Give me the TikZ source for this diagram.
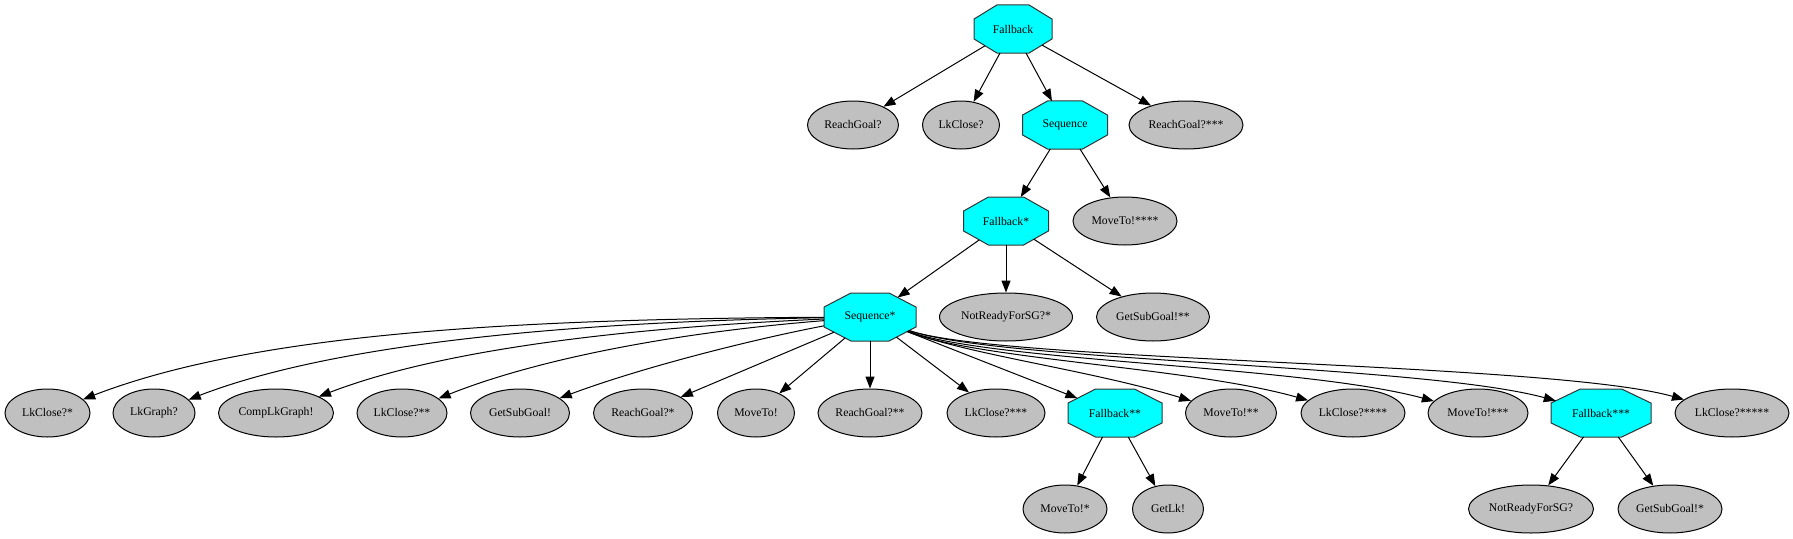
\documentclass[tikz,border=0pt]{standalone}
\usepackage{fontspec}
\setmainfont{Liberation Serif}
\usetikzlibrary{arrows.meta,shapes.geometric}
\definecolor{gvgray}{HTML}{C0C0C0}
\definecolor{gvcyan}{HTML}{00FFFF}
\tikzset{
  gvfont/.style={font=\fontsize{8.8}{10}\selectfont},
  leaf/.style={ellipse, draw=black, fill=gvgray, line width=0.75pt, inner sep=0pt, minimum height=36pt, gvfont},
  octshape/.style={regular polygon, regular polygon sides=8, minimum size=38.97pt, inner sep=0pt, outer sep=0pt, draw=black!80, fill=gvcyan, line width=0.75pt},
  lbl/.style={inner sep=0pt, gvfont},
  edge/.style={draw=black, line width=0.75pt, -{Triangle[length=9pt,width=6.8pt]}},
}
\newcommand\leafnode[5]{\node[leaf, minimum width=#4*0.75pt] (#1) at (#2,#3) {#5};}
\newcommand\octnode[5]{%
  \begin{scope}[shift={(#2,#3)}]
    \node[octshape, xscale=#4/48] (#1) at (0,0) {};
    \node[lbl] (#1t) at (0,0) {#5};
  \end{scope}}
\begin{document}
\begin{tikzpicture}[x=0.75pt, y=-0.75pt]
\useasboundingbox (0,0) rectangle (1793,539);
% row 1
\octnode{fb}{1013}{29}{78}{Fallback}
% row 2
\leafnode{rg1}{853}{125}{91}{ReachGoal?}
\leafnode{lkc1}{961}{125}{77}{LkClose?}
\octnode{seq}{1065}{125}{85}{Sequence}
\leafnode{rg3}{1186}{125}{114}{ReachGoal?***}
% row 3
\octnode{fbs}{1006}{221}{85}{Fallback*}
\leafnode{mv4}{1125}{221}{104}{MoveTo!****}
% row 4
\octnode{seqs}{870}{317}{92}{Sequence*}
\leafnode{nr1}{1006}{317}{133}{NotReadyForSG?*}
\leafnode{gs2}{1153}{317}{113}{GetSubGoal!**}
% row 5
\leafnode{a1}{47.5}{413}{85}{LkClose?*}
\leafnode{a2}{154}{413}{82}{LkGraph?}
\leafnode{a3}{276}{413}{115}{CompLkGraph!}
\leafnode{a4}{402}{413}{90}{LkClose?**}
\leafnode{a5}{520}{413}{99}{GetSubGoal!}
\leafnode{a6}{643}{413}{99}{ReachGoal?*}
\leafnode{a7}{756}{413}{77}{MoveTo!}
\leafnode{a8}{870}{413}{104}{ReachGoal?**}
\leafnode{a9}{996}{413}{98}{LkClose?***}
\octnode{a10}{1115}{413}{94}{Fallback**}
\leafnode{a11}{1231}{413}{91}{MoveTo!**}
\leafnode{a12}{1353}{413}{104}{LkClose?****}
\leafnode{a13}{1478}{413}{100}{MoveTo!***}
\octnode{a14}{1601}{413}{100}{Fallback***}
\leafnode{a15}{1732}{413}{114}{LkClose?*****}
% row 6
\leafnode{b1}{1065}{509}{84}{MoveTo!*}
\leafnode{b2}{1168}{509}{71}{GetLk!}
\leafnode{b3}{1531}{509}{125}{NotReadyForSG?}
\leafnode{b4}{1670}{509}{104}{GetSubGoal!*}
% edges
\draw[edge] (fb) -- (rg1);
\draw[edge] (fb) -- (lkc1);
\draw[edge] (fb) -- (seq);
\draw[edge] (fb) -- (rg3);
\draw[edge] (seq) -- (fbs);
\draw[edge] (seq) -- (mv4);
\draw[edge] (fbs) -- (seqs);
\draw[edge] (fbs) -- (nr1);
\draw[edge] (fbs) -- (gs2);
\draw[edge] (seqs) .. controls (500,319) and (250,335) .. (a1);
\draw[edge] (seqs) .. controls (560,322) and (330,345) .. (a2);
\draw[edge] (seqs) .. controls (620,328) and (440,350) .. (a3);
\draw[edge] (seqs) .. controls (680,332) and (540,358) .. (a4);
\draw[edge] (seqs) .. controls (750,340) and (640,368) .. (a5);
\draw[edge] (seqs) -- (a6);
\draw[edge] (seqs) -- (a7);
\draw[edge] (seqs) -- (a8);
\draw[edge] (seqs) -- (a9);
\draw[edge] (seqs) -- (a10);
\draw[edge] (seqs) .. controls (970,355) and (1090,370) .. (a11);
\draw[edge] (seqs) .. controls (980,360) and (1190,367) .. (a12);
\draw[edge] (seqs) .. controls (990,362) and (1300,365) .. (a13);
\draw[edge] (seqs) .. controls (1000,362) and (1420,364) .. (a14);
\draw[edge] (seqs) .. controls (1000,362) and (1550,362) .. (a15);
\draw[edge] (a10) -- (b1);
\draw[edge] (a10) -- (b2);
\draw[edge] (a14) -- (b3);
\draw[edge] (a14) -- (b4);
\end{tikzpicture}
\end{document}
